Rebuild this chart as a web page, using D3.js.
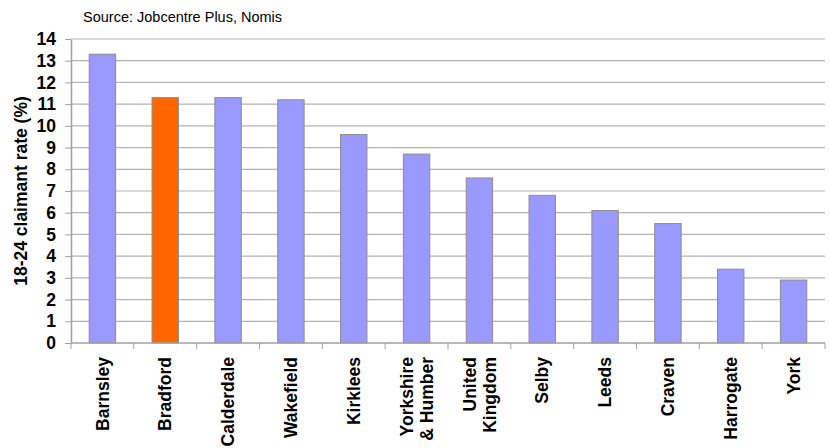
<!DOCTYPE html>
<html lang="en">
<head>
<meta charset="UTF-8">
<title>18-24 claimant rate</title>
<script src="https://d3js.org/d3.v7.min.js"></script>
<style>
  body { margin: 0; background: #fff; }
  svg text { font-family: "Liberation Sans", Arial, sans-serif; fill: #000; }
  .bold { font-weight: 700; }
</style>
</head>
<body>
<div id="chart"></div>
<script>
// data
const areas = [
  ["Barnsley"], ["Bradford"], ["Calderdale"], ["Wakefield"], ["Kirklees"],
  ["Yorkshire", "& Humber"], ["United", "Kingdom"], ["Selby"], ["Leeds"],
  ["Craven"], ["Harrogate"], ["York"]
];
const rates = [13.3, 11.3, 11.3, 11.2, 9.6, 8.7, 7.6, 6.8, 6.1, 5.5, 3.4, 2.9];
const highlight = "Bradford";
const yTicks = d3.range(0, 15);

const W = 830, H = 448;
const margin = { top: 39, right: 5, bottom: 105, left: 71 };
const width = W - margin.left - margin.right;
const height = H - margin.top - margin.bottom;

const svg = d3.select("#chart").append("svg")
  .attr("width", W).attr("height", H);

svg.append("text")
  .attr("x", 83).attr("y", 22)
  .style("font-size", "14.5px")
  .text("Source: Jobcentre Plus, Nomis");

const g = svg.append("g").attr("transform", `translate(${margin.left},${margin.top})`);

const names = areas.map(a => a.join(" "));
const x = d3.scaleBand().domain(names).range([0, width]).paddingInner(0).paddingOuter(0);
const y = d3.scaleLinear().domain([0, 14]).range([height, 0]);

// gridlines
g.append("g").selectAll("line").data(yTicks.filter(d => d > 0)).join("line")
  .attr("x1", 0).attr("x2", width)
  .attr("y1", d => y(d)).attr("y2", d => y(d))
  .attr("stroke", "#b3b3b3").attr("stroke-width", 1.2);

// bars
const barW = x.bandwidth() * 0.42;
g.append("g").selectAll("rect").data(rates).join("rect")
  .attr("x", (d, i) => x(names[i]) + (x.bandwidth() - barW) / 2)
  .attr("y", d => y(d))
  .attr("width", barW)
  .attr("height", d => y(0) - y(d))
  .attr("fill", (d, i) => names[i] === highlight ? "#ff6600" : "#9999ff")
  .attr("stroke", "#8c8c8c").attr("stroke-width", 1);

// y axis
const yAxis = g.append("g")
  .call(d3.axisLeft(y).tickValues(yTicks).tickSize(6).tickPadding(9).tickSizeOuter(0));
yAxis.attr("font-family", null).attr("font-size", null);
yAxis.selectAll("text").attr("class", "bold").style("font-size", "17.5px");
yAxis.selectAll("line").attr("stroke", "#a0a0a0");
yAxis.select(".domain").attr("stroke", "#a0a0a0").attr("stroke-width", 1.5);

// x axis: tick marks at band boundaries
const xAxis = g.append("g").attr("transform", `translate(0,${height})`);
xAxis.append("line").attr("x1", 0).attr("x2", width).attr("stroke", "#a0a0a0").attr("stroke-width", 1.5);
xAxis.selectAll("line.tk").data(names.concat(["end"])).join("line")
  .attr("class", "tk")
  .attr("x1", (d, i) => i * x.step()).attr("x2", (d, i) => i * x.step())
  .attr("y1", 0).attr("y2", 6)
  .attr("stroke", "#a0a0a0");

// rotated category labels
const lab = xAxis.selectAll("g.lab").data(areas).join("g")
  .attr("class", "lab")
  .attr("transform", (d, i) => `translate(${x(names[i]) + x.bandwidth() / 2},14) rotate(-90)`);
lab.each(function(lines) {
  const n = lines.length;
  d3.select(this).selectAll("text").data(lines).join("text")
    .attr("class", "bold")
    .attr("x", 0)
    .attr("y", (d, j) => (j - (n - 1) / 2) * 20)
    .attr("dy", "0.35em")
    .attr("text-anchor", "end")
    .style("font-size", "17.5px")
    .text(d => d);
});

// y axis title
svg.append("text")
  .attr("class", "bold")
  .attr("transform", `translate(21,${margin.top + height / 2}) rotate(-90)`)
  .attr("text-anchor", "middle")
  .attr("dy", "0.35em")
  .style("font-size", "17.5px")
  .text("18-24 claimant rate (%)");
</script>
</body>
</html>
